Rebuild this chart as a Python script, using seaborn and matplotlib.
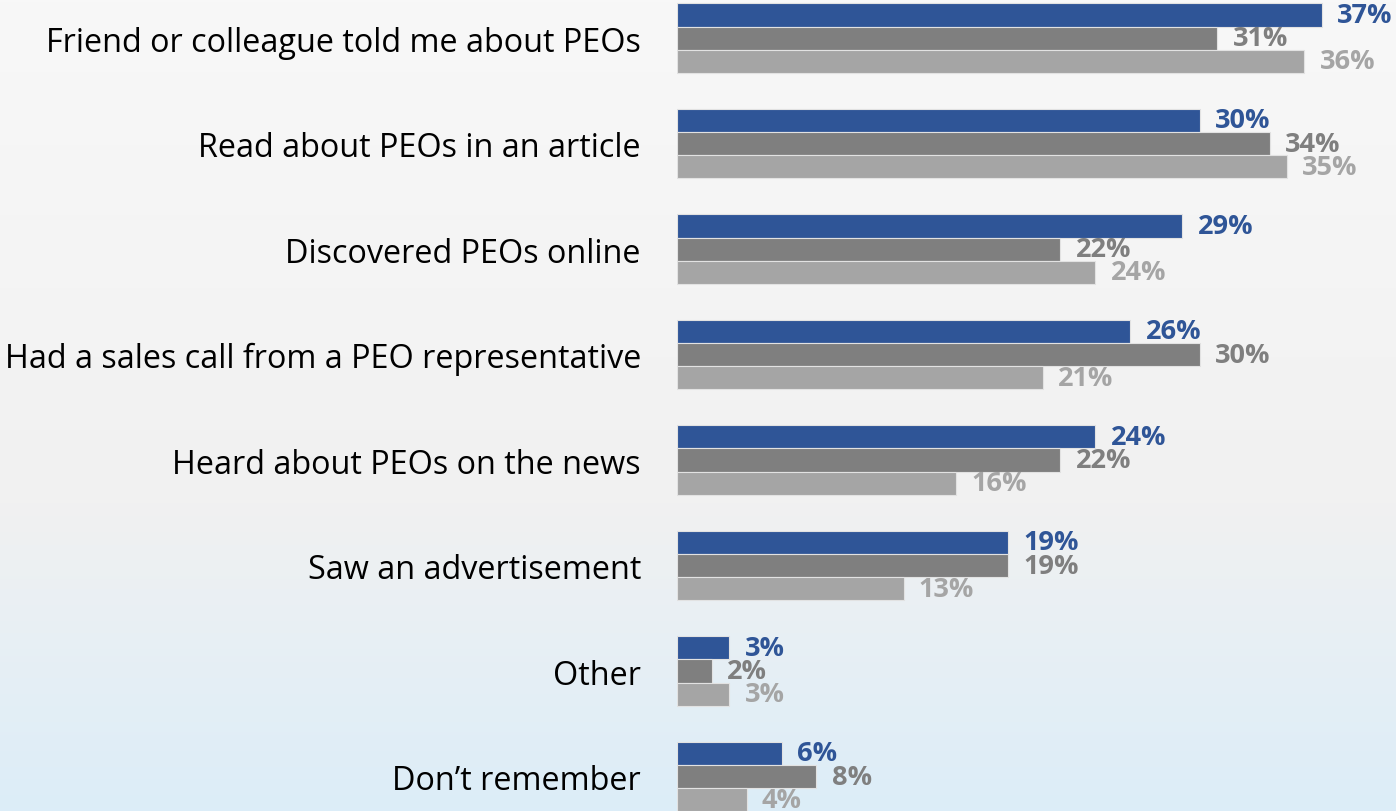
import numpy as np
import pandas as pd
import matplotlib
matplotlib.use("Agg")
import matplotlib.pyplot as plt
from matplotlib.colors import LinearSegmentedColormap
import seaborn as sns

# Survey answers: how respondents first heard about PEOs
categories = [
    "Friend or colleague told me about PEOs",
    "Read about PEOs in an article",
    "Discovered PEOs online",
    "Had a sales call from a PEO representative",
    "Heard about PEOs on the news",
    "Saw an advertisement",
    "Other",
    "Don\u2019t remember",
]
series_names = ["Group A", "Group B", "Group C"]
group_a = [37, 30, 29, 26, 24, 19, 3, 6]
group_b = [31, 34, 22, 30, 22, 19, 2, 8]
group_c = [36, 35, 24, 21, 16, 13, 3, 4]
series_colors = ["#2F5597", "#7F7F7F", "#A5A5A5"]

df = pd.DataFrame({
    "category": categories * 3,
    "series": [s for s in series_names for _ in categories],
    "value": group_a + group_b + group_c,
})

sns.set_theme(style="white")
plt.rcParams["font.family"] = ["Open Sans", "DejaVu Sans"]

fig = plt.figure(figsize=(13.96, 8.12), dpi=100)

# soft vertical gradient behind everything
bg = fig.add_axes([0, 0, 1, 1], zorder=-5)
cmap = LinearSegmentedColormap.from_list(
    "bg", [(0.0, "#f8f8f8"), (0.62, "#f1f1f1"), (1.0, "#dcedf8")])
grad = np.linspace(0, 1, 256).reshape(-1, 1)
bg.imshow(grad, aspect="auto", cmap=cmap, extent=[0, 1, 1, 0])
bg.set_xlim(0, 1)
bg.set_ylim(1, 0)
bg.axis("off")

ax = fig.add_axes([677 / 1396, 0, 1 - 677 / 1396, 1])
ax.patch.set_alpha(0)

sns.barplot(
    data=df, y="category", x="value", hue="series", order=categories,
    hue_order=series_names, palette=series_colors, saturation=1, orient="h",
    width=0.655, edgecolor="#e2e2e2", linewidth=0.8, legend=False, ax=ax,
)

# value labels just past each bar end
for container, color in zip(ax.containers, series_colors):
    labels = [f"{int(round(v))}%" for v in container.datavalues]
    ax.bar_label(container, labels=labels, padding=11, color=color,
                 fontsize=19.5, fontweight="bold", family=["Open Sans", "DejaVu Sans"])

ax.set_xlim(0, 41.25)
ax.set_ylim(7.327, -0.37)
ax.set_xlabel("")
ax.set_ylabel("")
ax.set_xticks([])
ax.tick_params(axis="y", length=0, pad=26, labelsize=23.3, labelcolor="black")
for spine in ax.spines.values():
    spine.set_visible(False)

fig.savefig("out.png", dpi=100)
